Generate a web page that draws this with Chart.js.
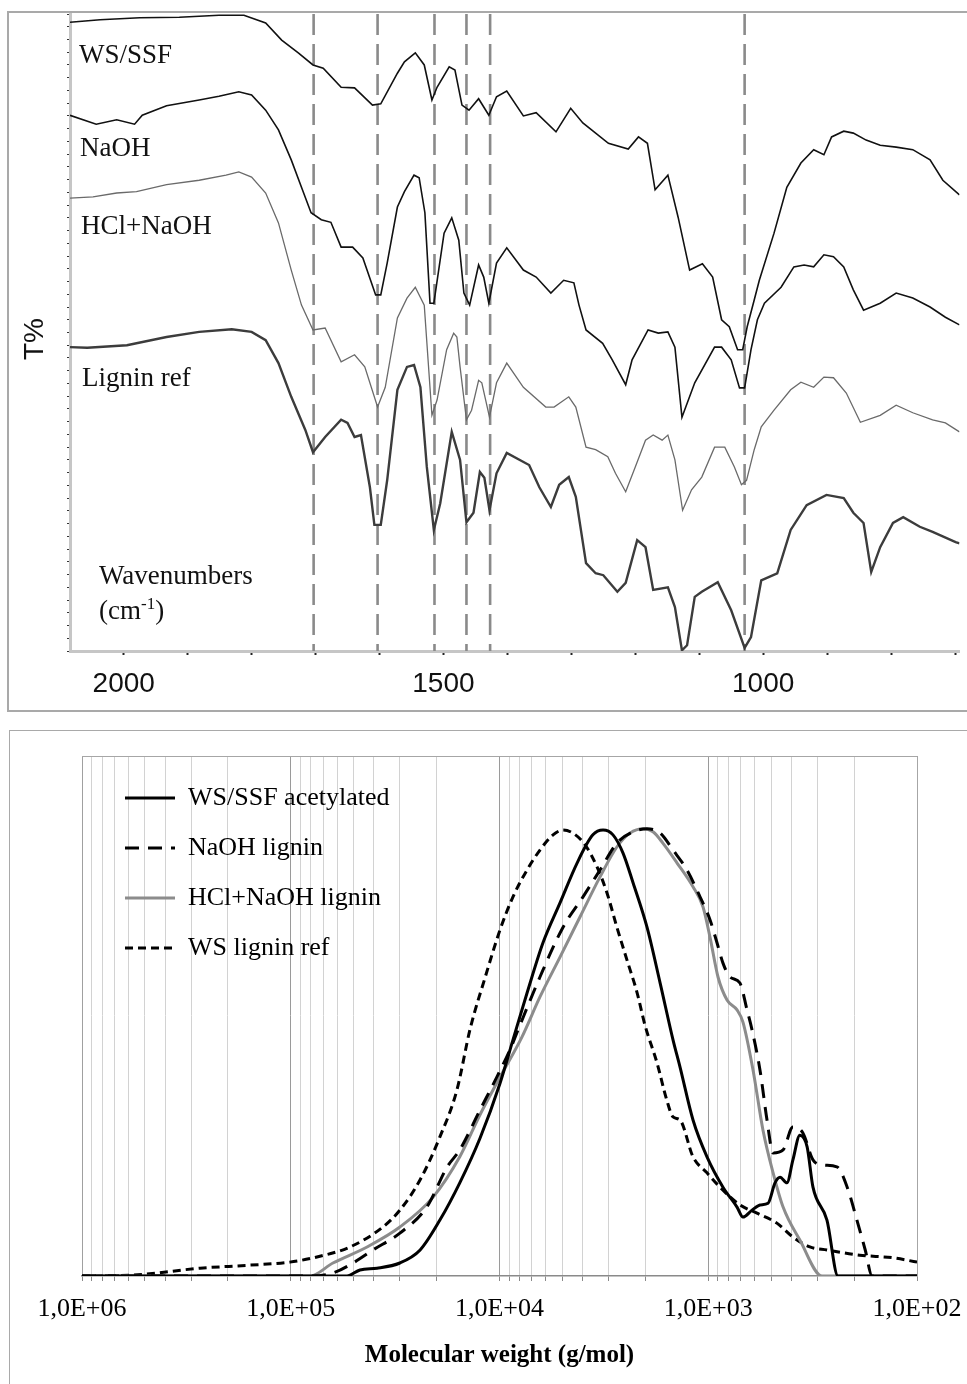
<!DOCTYPE html>
<html>
<head>
<meta charset="utf-8">
<script src="https://cdn.jsdelivr.net/npm/chart.js@4"></script>
<style>
  html, body { margin: 0; padding: 0; background: #fff; }
  body { position: relative; width: 967px; height: 1384px; overflow: hidden; }
  .panel { position: absolute; box-sizing: border-box; }
  #panelTop { left: 7px; top: 11px; width: 1000px; height: 701px; border: 2px solid #a9a9a9; }
  #panelBottom { left: 9px; top: 730px; width: 1000px; height: 700px; border: 1.5px solid #a9a9a9; }
  canvas { position: absolute; left: 0; z-index: 1; }
  #ftir { top: 0; }
  #gpc { top: 712px; }
  .lbl { position: absolute; z-index: 2; font-family: 'Liberation Serif', 'Times New Roman', serif;
         font-size: 27px; line-height: 1; color: #111; white-space: nowrap; }
  .lbl sup { font-size: 17px; line-height: 0; }
  #yTitle { position: absolute; z-index: 2; left: 34px; top: 339px; font-family: 'Liberation Sans', Arial, sans-serif;
            font-size: 28px; line-height: 1; color: #111; transform: translate(-50%, -50%) rotate(-90deg); }
</style>
</head>
<body>
<div class="panel" id="panelTop"></div>
<div class="panel" id="panelBottom"></div>
<canvas id="ftir" width="967" height="712"></canvas>
<canvas id="gpc" width="967" height="672"></canvas>

<div id="yTitle">T%</div>
<div class="lbl" style="left:79px;top:41px">WS/SSF</div>
<div class="lbl" style="left:80px;top:134px">NaOH</div>
<div class="lbl" style="left:81px;top:212px">HCl+NaOH</div>
<div class="lbl" style="left:82px;top:364px">Lignin ref</div>
<div class="lbl" style="left:99px;top:562px">Wavenumbers</div>
<div class="lbl" style="left:99px;top:597px">(cm<sup>-1</sup>)</div>

<script>
// FTIR spectra: [wavenumber cm-1, T% (offset, arbitrary units)]
const wsSsfSpectrum = [[2084,98.7],[2037,99.1],[1975,99.4],[1913,99.5],[1851,99.8],[1812,99.8],[1778,98.6],[1753,95.9],[1727,93.9],[1704,92.0],[1688,91.5],[1660,88.5],[1639,88.4],[1611,85.7],[1598,85.9],[1572,90.7],[1561,92.5],[1544,93.9],[1530,92.0],[1518,86.5],[1510,88.5],[1491,91.7],[1482,91.2],[1471,85.7],[1460,84.9],[1445,86.7],[1429,84.1],[1417,87.0],[1401,87.9],[1375,84.0],[1355,84.5],[1324,81.5],[1301,85.2],[1282,82.9],[1242,79.7],[1211,78.8],[1195,80.7],[1181,79.7],[1169,72.4],[1149,74.7],[1133,68.1],[1115,59.8],[1095,60.8],[1079,58.7],[1065,52.0],[1053,50.9],[1040,47.3],[1032,47.3],[1025,50.9],[1014,55.1],[1006,58.2],[983,65.6],[963,72.8],[941,76.6],[921,78.7],[905,77.9],[893,80.7],[874,81.6],[859,81.3],[839,80.2],[817,79.4],[792,79.1],[766,78.7],[739,77.1],[719,73.9],[693,71.6]];
const naohSpectrum = [[2084,84.1],[2043,82.7],[2011,83.4],[1983,82.7],[1971,84.1],[1933,85.6],[1882,86.5],[1851,87.1],[1820,87.8],[1800,87.3],[1778,84.9],[1758,81.8],[1738,77.1],[1722,72.8],[1707,68.8],[1691,67.7],[1676,67.3],[1660,63.4],[1642,63.4],[1626,61.7],[1606,55.9],[1598,55.9],[1588,60.9],[1572,69.7],[1561,72.1],[1546,74.7],[1538,74.3],[1529,68.8],[1521,54.6],[1515,54.6],[1499,65.6],[1487,68.0],[1476,64.5],[1468,56.2],[1459,54.3],[1445,60.6],[1437,58.7],[1429,54.6],[1417,60.9],[1401,63.3],[1375,59.8],[1355,58.7],[1332,56.2],[1312,58.2],[1296,57.8],[1288,54.3],[1277,50.4],[1251,48.3],[1236,45.7],[1215,41.8],[1205,45.7],[1180,50.4],[1164,49.9],[1149,50.1],[1138,47.7],[1127,36.7],[1107,42.1],[1076,47.7],[1065,47.7],[1050,45.7],[1037,41.3],[1029,41.3],[1019,47.3],[1009,52.0],[998,54.6],[972,57.1],[952,60.3],[936,60.6],[921,60.3],[905,62.2],[890,61.9],[874,60.3],[859,56.7],[843,53.5],[817,54.6],[792,56.2],[766,55.4],[739,54.0],[715,52.4],[693,51.2]];
const hclNaohSpectrum = [[2084,71.1],[2048,71.3],[2011,71.9],[1980,72.1],[1933,73.2],[1882,73.9],[1840,74.7],[1820,75.2],[1800,74.4],[1778,71.9],[1758,67.2],[1738,59.8],[1722,54.3],[1704,50.4],[1685,50.7],[1660,45.4],[1639,46.5],[1623,44.6],[1603,38.3],[1591,41.4],[1572,52.3],[1557,55.4],[1544,57.1],[1530,54.3],[1518,37.0],[1510,39.4],[1495,47.3],[1484,49.9],[1479,49.3],[1474,44.6],[1464,36.3],[1456,37.8],[1445,42.5],[1440,42.1],[1428,36.7],[1417,42.1],[1401,45.2],[1375,41.4],[1340,38.3],[1327,38.3],[1304,39.9],[1293,38.3],[1277,32.0],[1262,31.6],[1243,30.5],[1231,27.9],[1215,25.0],[1200,28.9],[1184,33.1],[1172,33.9],[1158,33.1],[1149,33.9],[1138,30.0],[1126,22.1],[1112,25.3],[1096,27.3],[1076,32.0],[1060,32.0],[1045,28.9],[1034,26.1],[1026,26.8],[1014,31.6],[1003,35.2],[983,37.8],[957,41.0],[941,42.2],[921,41.4],[905,43.0],[890,42.9],[870,40.5],[848,35.9],[817,37.0],[792,38.6],[766,37.4],[735,36.3],[715,35.8],[693,34.4]];
const ligninRefSpectrum = [[2084,47.7],[2057,47.6],[1995,48.0],[1933,49.3],[1882,50.1],[1831,50.5],[1800,50.1],[1778,48.8],[1758,45.2],[1738,39.9],[1716,34.7],[1704,31.2],[1685,33.6],[1660,36.3],[1650,35.8],[1639,33.6],[1629,33.9],[1615,25.7],[1608,19.8],[1598,19.8],[1588,26.8],[1572,41.0],[1557,44.6],[1546,44.9],[1536,41.4],[1526,28.9],[1515,19.0],[1505,23.2],[1487,34.4],[1474,30.0],[1464,20.2],[1453,21.7],[1443,28.1],[1436,27.2],[1428,22.1],[1417,27.9],[1401,31.1],[1366,29.2],[1350,25.7],[1332,22.6],[1319,26.1],[1304,27.3],[1293,24.2],[1277,13.8],[1262,12.2],[1250,11.9],[1228,9.3],[1215,10.7],[1197,17.4],[1184,16.3],[1172,9.6],[1149,10.0],[1138,6.9],[1127,0.1],[1119,0.9],[1107,8.5],[1096,9.3],[1071,10.8],[1050,6.4],[1029,0.5],[1019,2.2],[1003,11.1],[978,12.2],[957,19.0],[932,22.9],[901,24.5],[874,24.0],[859,21.7],[843,20.1],[831,12.4],[817,16.3],[797,20.1],[781,21.0],[755,19.5],[735,18.7],[699,17.1],[693,16.9]];
const bandPositions = [1703, 1603, 1514, 1464, 1427, 1029];
const wnTicks = [2000, 1900, 1800, 1700, 1600, 1500, 1400, 1300, 1200, 1100, 1000, 900, 800, 700];
const wnLabelled = [2000, 1500, 1000];

// GPC: [molecular weight g/mol, normalised signal]
const gpcWsSsf = [[1000000,0],[78200,0],[53800,0],[46600,0.014],[38600,0.018],[30000,0.030],[24000,0.060],[19300,0.129],[15500,0.215],[12400,0.318],[9940,0.445],[8620,0.545],[7380,0.653],[6190,0.769],[5130,0.861],[4250,0.953],[3570,1.018],[3190,1.029],[2860,1.018],[2560,0.976],[2290,0.907],[1965,0.805],[1700,0.676],[1475,0.545],[1365,0.482],[1183,0.360],[1014,0.275],[850,0.205],[728,0.159],[682,0.136],[617,0.152],[565,0.164],[517,0.168],[479,0.215],[453,0.228],[420,0.215],[393,0.268],[364,0.325],[336,0.298],[315,0.205],[270,0.129],[239,0],[100,0]];
const gpcNaoh = [[1000000,0],[80900,0],[62800,0.007],[50300,0.030],[40400,0.060],[30000,0.099],[22300,0.159],[17800,0.252],[15500,0.291],[12400,0.383],[10300,0.459],[8910,0.522],[8150,0.568],[6400,0.690],[4960,0.805],[3980,0.875],[3300,0.937],[2740,0.999],[2290,1.025],[1965,1.032],[1700,1.022],[1475,0.983],[1265,0.937],[1095,0.875],[981,0.822],[908,0.769],[850,0.722],[787,0.690],[705,0.676],[652,0.614],[617,0.568],[565,0.475],[523,0.360],[489,0.284],[438,0.291],[393,0.344],[352,0.330],[315,0.268],[282,0.256],[242,0.252],[216,0.205],[194,0.129],[177,0.060],[164,0],[100,0]];
const gpcHclNaoh = [[1000000,0],[80900,0],[62800,0.030],[43100,0.067],[30000,0.113],[20800,0.182],[15500,0.275],[12400,0.372],[9940,0.459],[7800,0.552],[6400,0.644],[5130,0.736],[4110,0.829],[3300,0.921],[2740,0.990],[2370,1.022],[2050,1.032],[1840,1.025],[1650,0.999],[1410,0.953],[1183,0.898],[1060,0.852],[981,0.782],[898,0.690],[813,0.637],[728,0.614],[682,0.586],[610,0.475],[547,0.337],[489,0.238],[438,0.159],[364,0.083],[285,0],[100,0]];
const gpcLigninRef = [[1000000,0],[570000,0.002],[272000,0.018],[157000,0.025],[101000,0.032],[74900,0.044],[52000,0.067],[36200,0.113],[30000,0.152],[24000,0.222],[19300,0.321],[16000,0.429],[13800,0.572],[11700,0.690],[9940,0.799],[8620,0.875],[7380,0.937],[6400,0.983],[5540,1.018],[4960,1.029],[4450,1.022],[3890,0.995],[3410,0.944],[3055,0.884],[2740,0.805],[2450,0.729],[2190,0.653],[2010,0.579],[1760,0.492],[1580,0.406],[1475,0.367],[1365,0.360],[1183,0.275],[1014,0.238],[850,0.198],[705,0.164],[584,0.145],[469,0.122],[393,0.090],[326,0.067],[270,0.060],[188,0.048],[130,0.042],[100,0.032]];
const gpcNames = ['WS/SSF acetylated', 'NaOH lignin', 'HCl+NaOH lignin', 'WS lignin ref'];
const mwDecades = [1000000, 100000, 10000, 1000, 100];
const mwDecadeLabels = ['1,0E+06', '1,0E+05', '1,0E+04', '1,0E+03', '1,0E+02'];

const serif = "'Liberation Serif', 'Times New Roman', serif";
const sans = "'Liberation Sans', Arial, sans-serif";
const toXY = arr => arr.map(p => ({x: p[0], y: p[1]}));

// ---------- top: FTIR ----------
function spectrum(data, color, width) {
    return { data: toXY(data), borderColor: color, borderWidth: width, pointRadius: 0, tension: 0, fill: false };
}
const bandSets = bandPositions.map(wn => ({
    data: [{x: wn, y: 100}, {x: wn, y: 0}],
    borderColor: '#8a8a8a', borderWidth: 2.6, borderDash: [21, 9], pointRadius: 0, fill: false
}));

new Chart(document.getElementById('ftir'), {
    type: 'line',
    data: {
        datasets: [
            spectrum(wsSsfSpectrum, '#111', 1.6),
            spectrum(naohSpectrum, '#111', 1.6),
            spectrum(hclNaohSpectrum, '#6a6a6a', 1.3),
            spectrum(ligninRefSpectrum, '#3c3c3c', 2.4),
            ...bandSets
        ]
    },
    options: {
        responsive: false,
        animation: false,
        devicePixelRatio: 1,
        layout: { padding: { left: 0, right: 0, top: 14, bottom: 0 } },
        plugins: { legend: { display: false }, tooltip: { enabled: false } },
        scales: {
            x: {
                type: 'linear', reverse: true, min: 693, max: 2084,
                afterBuildTicks: s => { s.ticks = wnTicks.map(v => ({value: v})); },
                afterFit: s => { s.height = 61; },
                ticks: {
                    autoSkip: false, maxRotation: 0, padding: 12, color: '#111',
                    font: { family: sans, size: 28 },
                    callback: v => wnLabelled.includes(v) ? String(v) : ''
                },
                grid: { drawOnChartArea: false, drawTicks: true, tickLength: 4, tickColor: '#222', tickWidth: 2 },
                border: { color: '#c6c6c6', width: 3 }
            },
            y: {
                min: 0, max: 100,
                afterBuildTicks: s => {
                    const t = [];
                    for (let v = 0; v <= 100; v += 2) t.push({value: v});
                    s.ticks = t;
                },
                afterFit: s => { s.width = 70; },
                ticks: { display: false },
                grid: { drawOnChartArea: false, drawTicks: true, tickLength: 3, tickColor: '#333' },
                border: { color: '#c6c6c6', width: 3 }
            }
        }
    }
});

// ---------- bottom: GPC ----------
const mwGrid = [];
for (let d = 100000; d >= 100; d /= 10) {
    for (let k = 9; k >= 1; k--) mwGrid.push(k * d);
}
mwGrid.unshift(1000000);

const plotFrame = {
    id: 'plotFrame',
    beforeDatasetsDraw(chart) {
        const a = chart.chartArea, g = chart.ctx;
        g.save();
        g.strokeStyle = '#a6a6a6';
        g.lineWidth = 1;
        g.beginPath();
        g.moveTo(a.left, a.top + 0.5);
        g.lineTo(a.right + 0.5, a.top + 0.5);
        g.lineTo(a.right + 0.5, a.bottom);
        g.stroke();
        g.restore();
    },
    afterLayout(chart) {
        // the in-plot legend: put it where the original sits
        chart.legend.left = chart.chartArea.left + 19;
        chart.legend.top = chart.chartArea.top + 5;
    }
};

function gpcLine(i, data, color, dash) {
    return {
        label: gpcNames[i], data: toXY(data), borderColor: color, backgroundColor: color,
        borderWidth: 3, borderDash: dash, pointRadius: 0, fill: false,
        cubicInterpolationMode: 'monotone'
    };
}

new Chart(document.getElementById('gpc'), {
    type: 'line',
    data: {
        datasets: [
            gpcLine(0, gpcWsSsf, '#000', []),
            gpcLine(1, gpcNaoh, '#000', [14, 9]),
            gpcLine(2, gpcHclNaoh, '#8c8c8c', []),
            gpcLine(3, gpcLigninRef, '#000', [8, 5])
        ]
    },
    options: {
        responsive: false,
        animation: false,
        devicePixelRatio: 1,
        layout: { padding: { left: 0, right: 50, top: 44, bottom: 0 } },
        plugins: {
            tooltip: { enabled: false },
            legend: {
                position: 'chartArea',
                align: 'start',
                labels: {
                    usePointStyle: true,
                    pointStyleWidth: 50,
                    padding: 24,
                    color: '#000',
                    font: { family: serif, size: 26 },
                    generateLabels: chart => chart.data.datasets.map((d, i) => ({
                        text: d.label, strokeStyle: d.borderColor, fillStyle: d.borderColor,
                        lineWidth: d.borderWidth, lineDash: d.borderDash, pointStyle: 'line',
                        fontColor: '#000', hidden: false, datasetIndex: i
                    }))
                }
            }
        },
        scales: {
            x: {
                type: 'logarithmic', reverse: true, min: 100, max: 1000000,
                afterBuildTicks: s => { s.ticks = mwGrid.map(v => ({value: v, major: mwDecades.includes(v)})); },
                afterFit: s => { s.height = 108; s.paddingLeft = 0; s.paddingRight = 0; },
                ticks: {
                    autoSkip: false, maxRotation: 0, padding: 13, color: '#000',
                    font: { family: serif, size: 26 },
                    callback: v => {
                        const i = mwDecades.indexOf(v);
                        return i >= 0 ? mwDecadeLabels[i] : '';
                    }
                },
                grid: {
                    drawTicks: true, tickLength: 5, tickColor: '#8a8a8a',
                    color: c => (c.tick && c.tick.major) ? '#9a9a9a' : '#d2d2d2'
                },
                border: { color: '#8a8a8a', width: 1.5 },
                title: {
                    display: true, text: 'Molecular weight (g/mol)', color: '#000',
                    font: { family: serif, size: 25, weight: 'bold' },
                    padding: { top: 0, bottom: 13 }
                }
            },
            y: {
                min: 0, max: 1.2,
                afterFit: s => { s.width = 82; },
                ticks: { display: false },
                grid: { display: false },
                border: { color: '#a0a0a0', width: 1 }
            }
        }
    },
    plugins: [plotFrame]
});
</script>
</body>
</html>
